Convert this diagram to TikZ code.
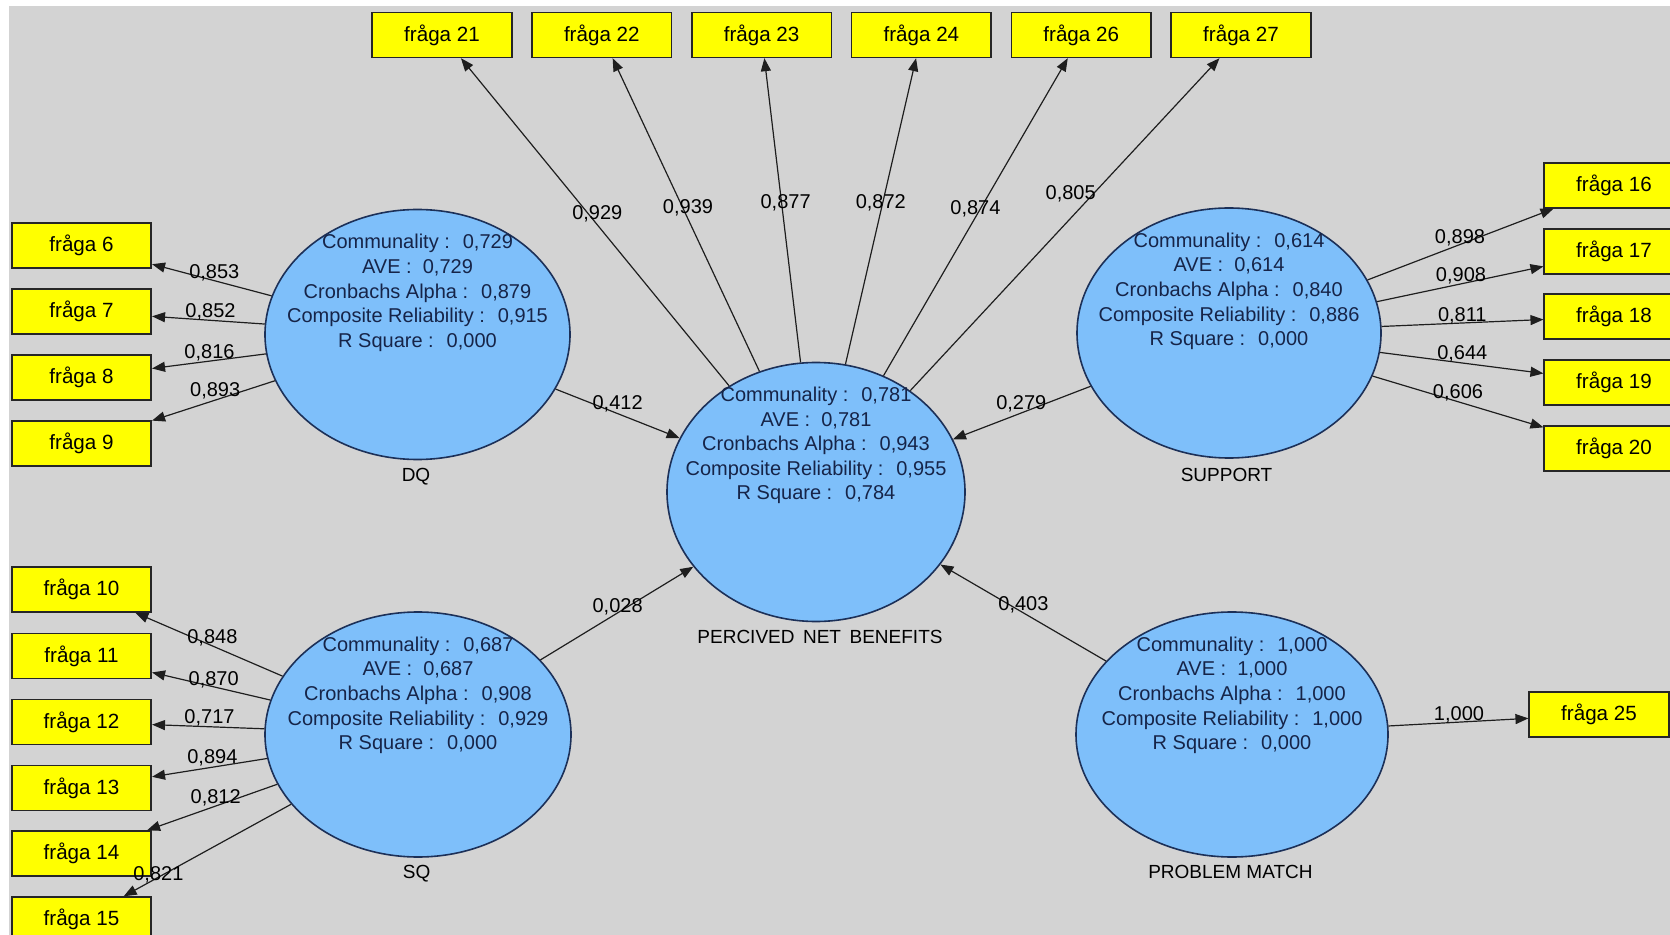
\documentclass[tikz,border=0pt]{standalone}
\usepackage{fontspec}
\setmainfont{Liberation Sans}
\usetikzlibrary{arrows.meta,shapes.geometric}
\definecolor{bg}{RGB}{211,211,211}
\definecolor{lvfill}{RGB}{126,191,250}
\definecolor{lvdraw}{RGB}{28,48,88}
\definecolor{lvtext}{RGB}{22,36,72}
\definecolor{mvfill}{RGB}{255,255,0}
\definecolor{edgecol}{RGB}{30,30,30}
\begin{document}
\begin{tikzpicture}[x=0.5pt,y=-0.5pt,
  mv/.style={rectangle, draw=black!85, line width=0.8pt, fill=mvfill,
    minimum width=69.75pt, minimum height=22.4pt, inner sep=0pt,
    font=\fontsize{10.3}{12}\selectfont},
  lv/.style={ellipse, draw=lvdraw, line width=0.8pt, fill=lvfill, inner sep=0pt},
  lvtxt/.style={align=center, anchor=north, inner sep=0pt, text=lvtext,
    font=\fontsize{10}{12.3}\selectfont},
  lvname/.style={anchor=base, inner sep=0pt, font=\fontsize{9.5}{11}\selectfont},
  load/.style={anchor=base, inner sep=0pt, font=\fontsize{10}{12}\selectfont},
  arr/.style={draw=edgecol, line width=0.6pt, -{Triangle[length=6.5pt,width=5pt]}}]
\useasboundingbox (0,0) rectangle (1670,935);
\clip (0,0) rectangle (1670,935);
\fill[white] (0,0) rectangle (1670,935);
\fill[bg] (9,6) rectangle (1670,935);

% latent variables
\node[lv, minimum width=152.5pt, minimum height=125pt] (dq) at (417.5,334.5) {};
\node[lv, minimum width=153pt, minimum height=122.5pt] (sq) at (418,734.5) {};
\node[lv, minimum width=149pt, minimum height=129.5pt] (pnb) at (816,492) {};
\node[lv, minimum width=152pt, minimum height=125pt] (sup) at (1229,333) {};
\node[lv, minimum width=156pt, minimum height=122.5pt] (pm) at (1232,734.5) {};

% indicators
\node[mv] (f6) at (81.5,245.5) {fråga 6};
\node[mv] (f7) at (81.5,311.5) {fråga 7};
\node[mv] (f8) at (81.5,377.5) {fråga 8};
\node[mv] (f9) at (81.5,443.5) {fråga 9};
\node[mv] (f10) at (81.5,589.5) {fråga 10};
\node[mv] (f11) at (81.5,656) {fråga 11};
\node[mv] (f12) at (81.5,722) {fråga 12};
\node[mv] (f13) at (81.5,788) {fråga 13};
\node[mv] (f14) at (81.5,853.5) {fråga 14};
\node[mv] (f15) at (81.5,919.5) {fråga 15};
\node[mv] (f21) at (442,35) {fråga 21};
\node[mv] (f22) at (601.8,35) {fråga 22};
\node[mv] (f23) at (761.6,35) {fråga 23};
\node[mv] (f24) at (921.4,35) {fråga 24};
\node[mv] (f26) at (1081.2,35) {fråga 26};
\node[mv] (f27) at (1241,35) {fråga 27};
\node[mv] (f16) at (1614,185.5) {fråga 16};
\node[mv] (f17) at (1614,251.5) {fråga 17};
\node[mv] (f18) at (1614,316.5) {fråga 18};
\node[mv] (f19) at (1614,382.5) {fråga 19};
\node[mv] (f20) at (1614,448.5) {fråga 20};
\node[mv] (f25) at (1599,714.5) {fråga 25};

% connectors
\foreach \t in {f6,f7,f8,f9} \draw[arr] (dq) -- (\t);
\foreach \t in {f10,f11,f12,f13,f14,f15} \draw[arr] (sq) -- (\t);
\foreach \t in {f21,f22,f23,f24,f26,f27} \draw[arr] (pnb) -- (\t);
\foreach \t in {f16,f17,f18,f19,f20} \draw[arr] (sup) -- (\t);
\draw[arr] (pm) -- (f25);
\draw[arr] (dq) -- (pnb);
\draw[arr] (sq) -- (pnb);
\draw[arr] (sup) -- (pnb);
\draw[arr] (pm) -- (pnb);

% texts in latent variables
\node[lvtxt] (tdq) at (417.5,234) {Communality :~ 0,729\\AVE :~ 0,729\\Cronbachs Alpha :~ 0,879\\Composite Reliability :~ 0,915\\R Square :~ 0,000};
\node[lvtxt] (tsq) at (418,636.4) {Communality :~ 0,687\\AVE :~ 0,687\\Cronbachs Alpha :~ 0,908\\Composite Reliability :~ 0,929\\R Square :~ 0,000};
\node[lvtxt] (tpnb) at (816,386.6) {Communality :~ 0,781\\AVE :~ 0,781\\Cronbachs Alpha :~ 0,943\\Composite Reliability :~ 0,955\\R Square :~ 0,784};
\node[lvtxt] (tsup) at (1229,232.4) {Communality :~ 0,614\\AVE :~ 0,614\\Cronbachs Alpha :~ 0,840\\Composite Reliability :~ 0,886\\R Square :~ 0,000};
\node[lvtxt] (tpm) at (1232,636.4) {Communality :~ 1,000\\AVE :~ 1,000\\Cronbachs Alpha :~ 1,000\\Composite Reliability :~ 1,000\\R Square :~ 0,000};

% names of latent variables
\node[lvname] (ndq) at (416,481) {DQ};
\node[lvname] (nsq) at (416.6,878.5) {SQ};
\node[lvname] (npnb) at (820,643.5) {PERCIVED\hspace{0.45em}NET\hspace{0.45em}BENEFITS};
\node[lvname] (nsup) at (1226.5,481.7) {SUPPORT};
\node[lvname] (npm) at (1230.4,878.3) {PROBLEM MATCH};

% loadings and path coefficients
\node[load] (l6) at (214.3,278.3) {0,853};
\node[load] (l7) at (210.5,317.3) {0,852};
\node[load] (l8) at (209.5,358.3) {0,816};
\node[load] (l9) at (215.2,396.7) {0,893};
\node[load] (l10) at (212.4,643.3) {0,848};
\node[load] (l11) at (213.7,685) {0,870};
\node[load] (l12) at (209.5,723.3) {0,717};
\node[load] (l13) at (212.4,763.3) {0,894};
\node[load] (l14) at (215.7,803.3) {0,812};
\node[load] (l15) at (158.4,880) {0,821};
\node[load] (l16) at (1460,243.3) {0,898};
\node[load] (l17) at (1461,281.7) {0,908};
\node[load] (l18) at (1462.3,321.7) {0,811};
\node[load] (l19) at (1462.3,359.3) {0,644};
\node[load] (l20) at (1458,398.3) {0,606};
\node[load] (l21) at (597.3,220) {0,929};
\node[load] (l22) at (688,213.3) {0,939};
\node[load] (l23) at (785.6,208.3) {0,877};
\node[load] (l24) at (880.8,208.3) {0,872};
\node[load] (l26) at (975.4,215) {0,874};
\node[load] (l27) at (1070.7,199.3) {0,805};
\node[load] (l25) at (1459,720.7) {1,000};
\node[load] (p1) at (617.6,409.5) {0,412};
\node[load] (p2) at (1021.3,410) {0,279};
\node[load] (p3) at (617.6,612) {0,028};
\node[load] (p4) at (1023.4,610) {0,403};
\end{tikzpicture}
\end{document}
